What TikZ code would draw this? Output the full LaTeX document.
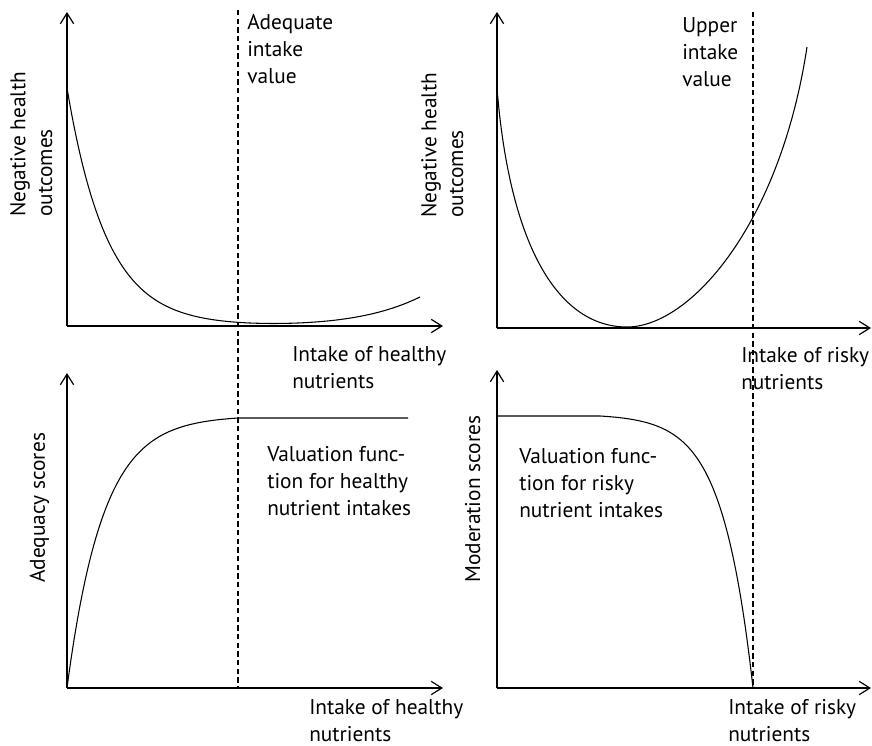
\documentclass[tikz,border=0pt]{standalone}
\usepackage{fontspec}
\setmainfont{PT Sans}
\usetikzlibrary{arrows.meta}
\tikzset{
    axis/.style={-{Straight Barb[length=8pt,width=10pt]},line width=0.9pt},
    curve/.style={line width=0.8pt},
    limit/.style={line width=0.8pt,dash pattern=on 4pt off 2.5pt},
    txt/.style={align=left,inner sep=0pt,anchor=base west,font=\fontsize{16pt}{20pt}\selectfont},
    vtxt/.style={txt,rotate=90}
}

\begin{document}
\begin{tikzpicture}[x=0.75pt,y=-0.75pt]
\useasboundingbox (0,0) rectangle (872,746);

% axes
\coordinate (neg healthy o) at (67,326);
\coordinate (neg healthy y) at (67,12);
\coordinate (neg healthy x) at (443,326);
\coordinate (neg risky o)   at (497,328);
\coordinate (neg risky y)   at (497,12);
\coordinate (neg risky x)   at (871,328);
\coordinate (adq o)         at (67,688);
\coordinate (adq y)         at (67,373);
\coordinate (adq x)         at (443,688);
\coordinate (mod o)         at (497,688);
\coordinate (mod y)         at (497,370);
\coordinate (mod x)         at (871,688);

\draw[axis] (neg healthy o) -- (neg healthy y);
\draw[axis] (neg healthy o) -- (neg healthy x);
\draw[axis] (neg risky o) -- (neg risky y);
\draw[axis] (neg risky o) -- (neg risky x);
\draw[axis] (adq o) -- (adq y);
\draw[axis] (adq o) -- (adq x);
\draw[axis] (mod o) -- (mod y);
\draw[axis] (mod o) -- (mod x);

% limits
\coordinate (adequate top)    at (238,10);
\coordinate (adequate bottom) at (238,688);
\coordinate (upper top)       at (753,12);
\coordinate (upper bottom)    at (753,688);
\draw[limit] (adequate top) -- (adequate bottom);
\draw[limit] (upper top) -- (upper bottom);

% curves
\draw[curve] plot[domain=67:420,samples=150] (\x,{326-238*exp(-(\x-67)/40)-29*((\x-67)/353)^6});
\draw[curve] (497,88) .. controls (510,250) and (560,327) .. (627,327)
                      .. controls (690,327) and (780,225) .. (807,47);
\draw[curve] plot[domain=67:238,samples=100] (\x,{688-270*(1-exp(-(\x-67)/36))/0.99135}) -- (408,418);
\draw[curve] (497,416) -- plot[domain=600:753,samples=100] (\x,{416+272*((exp(5*(\x-600)/153)-1)/147.41)});

% texts (base = last line)
\node[txt] (adequate) at (247,83) {Adequate\\intake\\value};
\node[txt] (upper)    at (682,86) {Upper\\intake\\value};

\node[txt] (neg healthy xlabel) at (292,388) {Intake of healthy\\nutrients};
\node[txt] (neg risky xlabel)   at (741,389) {Intake of risky\\nutrients};
\node[txt] (adq xlabel)         at (309,741) {Intake of healthy\\nutrients};
\node[txt] (mod xlabel)         at (728,741) {Intake of risky\\nutrients};

\node[vtxt] (neg healthy ylabel) at (52,217)  {Negative health\\outcomes};
\node[vtxt] (neg risky ylabel)   at (463,218) {Negative health\\outcomes};
\node[vtxt] (adq ylabel)         at (45,583)  {Adequacy scores};
\node[vtxt] (mod ylabel)         at (480,583) {Moderation scores};

\node[txt] (adq function) at (267,515) {Valuation func-\\tion for healthy\\nutrient intakes};
\node[txt] (mod function) at (519,517) {Valuation func-\\tion for risky\\nutrient intakes};

\end{tikzpicture}
\end{document}
